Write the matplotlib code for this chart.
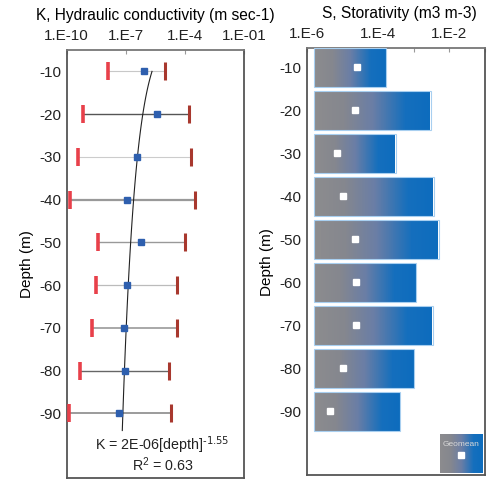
import numpy as np
import matplotlib
matplotlib.use('Agg')
import matplotlib.pyplot as plt
from matplotlib.colors import LinearSegmentedColormap
from matplotlib.patches import Rectangle

plt.rcParams['font.family'] = ['Liberation Sans', 'DejaVu Sans']
plt.rcParams['mathtext.default'] = 'regular'

# depths (m, negative downwards)
depth = [-10, -20, -30, -40, -50, -60, -70, -80, -90]

# hydraulic conductivity K (m/s): geomean, min, max
K_mean = [10**-6.08, 10**-5.42, 10**-6.42, 10**-6.92, 10**-6.24, 10**-6.92, 10**-7.08, 10**-7.03, 10**-7.35]
K_min = [10**-7.89, 10**-9.16, 10**-9.44, 10**-9.83, 10**-8.41, 10**-8.51, 10**-8.73, 10**-9.32, 10**-9.87]
K_max = [10**-5.01, 10**-3.79, 10**-3.69, 10**-3.49, 10**-4.00, 10**-4.42, 10**-4.42, 10**-4.79, 10**-4.71]

# power-law fit drawn through the profile
fit_coef = 10**-4.12
fit_exp = -1.55
fit_depth_range = (10, 94)

# storativity S (m3/m3): geomean, min, max
S_mean = [10**-4.58, 10**-4.64, 10**-5.15, 10**-4.99, 10**-4.65, 10**-4.61, 10**-4.61, 10**-4.99, 10**-5.34]
S_min = [10**-5.80] * 9
S_max = [10**-3.775, 10**-2.53, 10**-3.51, 10**-2.44, 10**-2.30, 10**-2.93, 10**-2.47, 10**-2.99, 10**-3.38]

line_grays = ['#c8c8c8', '#555555', '#cccccc', '#999999', '#999999', '#bbbbbb', '#999999', '#666666', '#8a8a8a']
line_widths = [0.8, 1.0, 0.8, 1.6, 1.0, 0.9, 1.2, 1.0, 1.2]

grad = LinearSegmentedColormap.from_list('gb', [(0.0, '#8c8c8e'), (0.25, '#85878f'),
                                               (0.5, '#6a7ea6'), (0.78, '#156fbd'),
                                               (1.0, '#0d6cbd')])


def log_gradient(x0, x1, n=6000):
    # columns are spaced evenly in data units, colour follows log position
    xs = np.linspace(x0, x1, n)
    return ((np.log10(xs) - np.log10(x0)) / (np.log10(x1) - np.log10(x0))).reshape(1, -1)


fig = plt.figure(figsize=(4.87, 4.79), dpi=100)
ax1 = fig.add_axes([0.137, 0.003, 0.364, 0.8926])
ax2 = fig.add_axes([0.630, 0.0084, 0.366, 0.8906])

# ---- left panel: K ----
for i, d in enumerate(depth):
    ax1.plot([K_min[i], K_max[i]], [d, d], color=line_grays[i], lw=line_widths[i], zorder=1)
    ax1.plot(K_min[i], d, marker='|', ms=13, mew=2.6, color='#e8404a', zorder=3)
    ax1.plot(K_max[i], d, marker='|', ms=13, mew=2.2, color='#a8382e', zorder=3)
ax1.plot(K_mean, depth, 's', ms=5, color='#2e5fae', ls='none', zorder=4)

fd = np.linspace(fit_depth_range[0], fit_depth_range[1], 100)
ax1.plot(fit_coef * fd**fit_exp, -fd, color='#222222', lw=0.8, zorder=2)

ax1.set_xscale('log')
ax1.set_xlim(1e-10, 1e-1)
ax1.set_ylim(-105, -5)
ax1.set_xticks([1e-10, 1e-7, 1e-4, 1e-1])
ax1.set_xticklabels(['1.E-10', '1.E-7', '1.E-4', '1.E-01'])
ax1.xaxis.set_minor_locator(matplotlib.ticker.NullLocator())
ax1.set_yticks(depth)
ax1.set_yticklabels([str(d) for d in depth])
ax1.set_ylabel('Depth (m)', fontsize=11, labelpad=4)
ax1.text(0.54, 0.075, r'K = 2E-06[depth]$^{\text{-1.55}}$', transform=ax1.transAxes,
         ha='center', va='center', fontsize=10.3, color='#222222')
ax1.text(0.54, 0.03, 'R$^{2}$ = 0.63', transform=ax1.transAxes,
         ha='center', va='center', fontsize=10.3, color='#222222')
ax1.annotate('K, Hydraulic conductivity (m sec-1)', xy=(0.5, 1.0), xycoords='axes fraction',
             xytext=(0, 25), textcoords='offset points', ha='center', va='center', fontsize=11.2)

# ---- right panel: S ----
bar_h = 9.0
for i, d in enumerate(depth):
    r = Rectangle((S_min[i], d - bar_h / 2), S_max[i] - S_min[i], bar_h,
                  facecolor='none', edgecolor='#a8cff0', lw=0.8, zorder=3)
    ax2.add_patch(r)
    im = ax2.imshow(log_gradient(S_min[i], S_max[i]), cmap=grad, aspect='auto', zorder=2,
                    interpolation='nearest',
                    extent=(S_min[i], S_max[i], d - bar_h / 2, d + bar_h / 2))
    im.set_clip_path(r)
ax2.plot(S_mean, depth, 's', ms=5, color='white', ls='none', zorder=4)

ax2.imshow(np.linspace(0, 1, 256).reshape(1, -1), cmap=grad, aspect='auto',
           extent=(0.748, 0.987, 0.005, 0.096), transform=ax2.transAxes, zorder=5)
ax2.text(0.868, 0.072, 'Geomean', transform=ax2.transAxes, ha='center', va='center',
         fontsize=6, color='#d8d8d8', zorder=6)
ax2.plot(0.866, 0.047, 's', ms=5, color='white', transform=ax2.transAxes, zorder=6)

ax2.set_xscale('log')
ax2.set_xlim(1e-6, 1e-1)
ax2.set_ylim(-104.8, -5.6)
ax2.set_xticks([1e-6, 1e-5, 1e-4, 1e-3, 1e-2, 1e-1])
ax2.set_xticklabels(['1.E-6', '', '1.E-4', '', '1.E-2', ''])
ax2.xaxis.set_minor_locator(matplotlib.ticker.NullLocator())
ax2.set_yticks(depth)
ax2.set_yticklabels([str(d) for d in depth])
ax2.set_ylabel('Depth (m)', fontsize=11, labelpad=4)
ax2.annotate('S, Storativity (m3 m-3)', xy=(0.52, 1.0), xycoords='axes fraction',
             xytext=(0, 25), textcoords='offset points', ha='center', va='center', fontsize=11.2)

for ax in (ax1, ax2):
    ax.xaxis.tick_top()
    ax.tick_params(axis='x', which='major', direction='in', length=3, width=0.8,
                   color='#999999', labelsize=11, pad=5, labelcolor='#222222')
    ax.tick_params(axis='y', length=0, labelsize=11, pad=4, labelcolor='#222222')
    for s in ax.spines.values():
        s.set_color('#555555')
        s.set_linewidth(1.3)
    ax.spines['top'].set_color('#777777')

fig.savefig('out.png', dpi=100)
